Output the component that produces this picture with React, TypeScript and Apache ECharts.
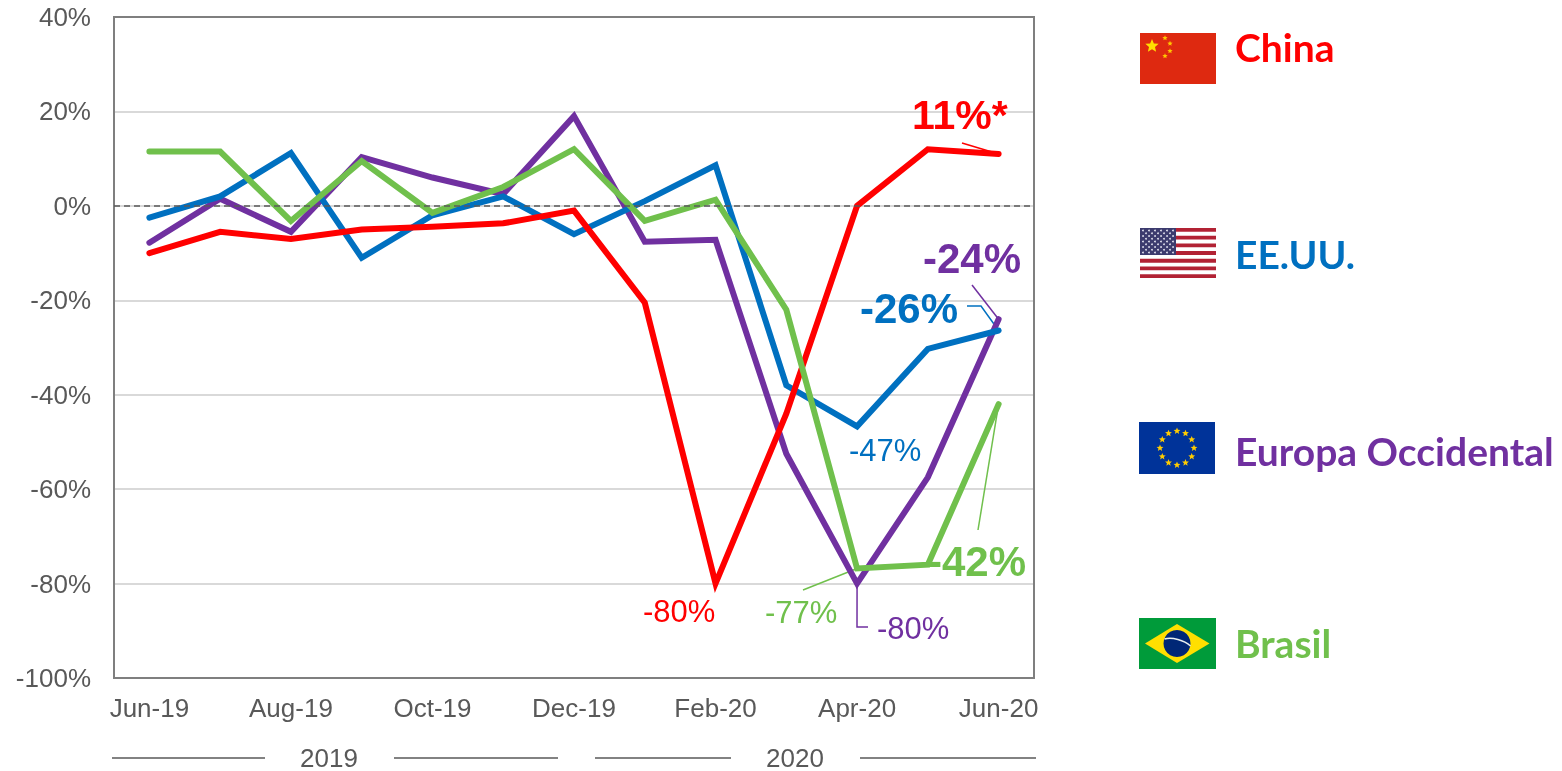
import React, { useEffect, useRef } from "react";
import * as echarts from "echarts";

const months = ["Jun-19","Jul-19","Aug-19","Sep-19","Oct-19","Nov-19","Dec-19","Jan-20","Feb-20","Mar-20","Apr-20","May-20","Jun-20"];
const china = [-10,-5.5,-7,-5,-4.4,-3.7,-1,-20.5,-80,-44,0,12,11];
const usa = [-2.5,2,11.2,-11,-2,2,-6,1,8.6,-38,-46.7,-30.3,-26.4];
const europe = [-7.8,1.5,-5.5,10.3,6,2.5,19,-7.6,-7.2,-52.5,-80,-57.5,-24];
const brazil = [11.5,11.5,-3.2,9.5,-1.5,4,12,-3.2,1.3,-22,-76.8,-76,-42];

const RED = "#ff0000", BLUE = "#0070c0", PURPLE = "#7030a0", GREEN = "#70c04c", GREY = "#595959";
const ARIAL = '"Liberation Sans", Arial, sans-serif';
const LEGEND_FONT = 'Lato, "Open Sans", sans-serif';

const star = (cx: number, cy: number, r: number, fill: string, rot = 0) => {
  const pts: number[][] = [];
  for (let i = 0; i < 10; i++) {
    const a = -Math.PI / 2 + rot + (i * Math.PI) / 5;
    const rr = i % 2 ? r * 0.45 : r;
    pts.push([cx + rr * Math.cos(a), cy + rr * Math.sin(a)]);
  }
  return { type: "polygon", shape: { points: pts }, style: { fill } };
};
const rect = (x: number, y: number, w: number, h: number, fill: string) => ({
  type: "rect", shape: { x, y, width: w, height: h }, style: { fill },
});
const txt = (x: number, y: number, text: string, fill: string, size: number, bold = false, font = ARIAL, align = "left") => ({
  type: "text", x, y,
  style: { text, fill, font: `${bold ? "bold " : ""}${size}px ${font}`, textAlign: align, textVerticalAlign: "middle" },
});
const seg = (pts: number[][], stroke: string, lineWidth = 1.5) => ({
  type: "polyline", shape: { points: pts }, style: { stroke, lineWidth, fill: "none" },
});

function flags() {
  const out: any[] = [];
  // China
  out.push(rect(1140, 33, 76, 51, "#de2910"));
  out.push(star(1152, 46, 7, "#ffde00"));
  out.push(star(1165, 38, 2.8, "#ffc800"), star(1170, 43.5, 2.8, "#ffc800"), star(1170, 51, 2.8, "#ffc800"), star(1165, 56, 2.8, "#ffc800"));
  // USA
  out.push(rect(1140, 228, 76, 50, "#ffffff"));
  for (let i = 0; i < 7; i++) out.push(rect(1140, 228 + i * 7.7, 76, 3.85, "#b22234"));
  out.push(rect(1140, 228, 36, 27, "#3c3b6e"));
  for (let r = 0; r < 9; r++) {
    const n = r % 2 ? 5 : 6;
    for (let c = 0; c < n; c++) {
      out.push({ type: "circle", shape: { cx: 1143 + (r % 2 ? 3 : 0) + c * 6, cy: 230.5 + r * 2.75, r: 0.9 }, style: { fill: "#e6e6f2" } });
    }
  }
  // EU
  out.push(rect(1139, 422, 76, 52, "#003399"));
  for (let i = 0; i < 12; i++) {
    const a = (i * Math.PI) / 6;
    out.push(star(1177 + 17 * Math.sin(a), 448 - 17 * Math.cos(a), 3.6, "#ffcc00"));
  }
  // Brazil
  out.push(rect(1139, 618, 77, 51, "#009b3a"));
  out.push({ type: "polygon", shape: { points: [[1145, 643.5], [1177, 624], [1209.5, 643.5], [1177, 663]] }, style: { fill: "#ffdf00" } });
  out.push({ type: "circle", shape: { cx: 1177, cy: 643.5, r: 13.5 }, style: { fill: "#002776" } });
  out.push({ type: "bezierCurve", shape: { x1: 1164.5, y1: 639, x2: 1190.5, y2: 646, cpx1: 1172, cpy1: 637, cpx2: 1184, cpy2: 640 }, style: { stroke: "#e8f0f0", lineWidth: 1.5, fill: "none" } });
  return out;
}

export default function App() {
  const ref = useRef<HTMLDivElement>(null);
  useEffect(() => {
    const chart = echarts.init(ref.current!, undefined, { renderer: "svg" });
    const line = (name: string, data: number[], color: string, extra: any = {}) => ({
      name, type: "line", data, symbol: "none", silent: true,
      lineStyle: { color, width: 6, join: "miter", miterLimit: 20, cap: "round" }, ...extra,
    });
    chart.setOption({
      animation: false,
      grid: { left: 114, right: 528, top: 17, bottom: 93 },
      xAxis: {
        type: "category", data: months,
        axisLine: { show: false }, axisTick: { show: false },
        axisLabel: { interval: 1, color: GREY, fontFamily: ARIAL, fontSize: 26, margin: 17 },
      },
      yAxis: {
        type: "value", min: -100, max: 40, interval: 20,
        axisLine: { show: false }, axisTick: { show: false },
        axisLabel: { formatter: "{value}%", color: GREY, fontFamily: ARIAL, fontSize: 26, margin: 23 },
        splitLine: { lineStyle: { color: "#d9d9d9", width: 2 } },
      },
      series: [
        line("Europa Occidental", europe, PURPLE, {
          markLine: {
            silent: true, symbol: "none", label: { show: false },
            lineStyle: { color: GREY, type: [6, 4], width: 1.5 },
            data: [{ yAxis: 0 }],
          },
        }),
        line("EE.UU.", usa, BLUE),
        line("China", china, RED),
        line("Brasil", brazil, GREEN),
      ],
    });

    const px = (i: number, v: number) => chart.convertToPixel({ xAxisIndex: 0, yAxisIndex: 0 }, [months[i], v]) as number[];
    const last = months.length - 1;
    const apr = months.indexOf("Apr-20");
    const elements: any[] = [
      // plot frame above the gridlines
      { type: "rect", z: 1, shape: { x: 114, y: 17, width: 920, height: 661 }, style: { fill: "none", stroke: "#7f7f7f", lineWidth: 2 } },
      // leader lines
      seg([[962, 143], px(last, china[last])], RED),
      seg([[967, 306], [981, 306], px(last, usa[last])], BLUE),
      seg([[972, 285], px(last, europe[last])], PURPLE),
      seg([[978, 530], px(last, brazil[last])], GREEN),
      seg([[803, 590], px(apr, brazil[apr])], GREEN),
      seg([px(apr, europe[apr]), [857, 627], [868, 627]], PURPLE),
      // value labels
      txt(912, 115, "11%*", RED, 41, true),
      txt(923, 258, "-24%", PURPLE, 42, true),
      txt(860, 308, "-26%", BLUE, 42, true),
      txt(928, 561, "-42%", GREEN, 42, true),
      txt(849, 450, "-47%", BLUE, 31),
      txt(643, 611, "-80%", RED, 31),
      txt(765, 612, "-77%", GREEN, 31),
      txt(877, 628, "-80%", PURPLE, 31),
      // year bands
      seg([[112, 758], [265, 758]], GREY),
      seg([[394, 758], [558, 758]], GREY),
      seg([[595, 758], [731, 758]], GREY),
      seg([[860, 758], [1036, 758]], GREY),
      txt(329, 757.5, "2019", GREY, 26, false, ARIAL, "center"),
      txt(795, 757.5, "2020", GREY, 26, false, ARIAL, "center"),
      // legend
      ...flags(),
      txt(1235, 47, "China", RED, 39, true, LEGEND_FONT),
      txt(1235, 254, "EE.UU.", BLUE, 39, true, LEGEND_FONT),
      txt(1235, 451, "Europa Occidental", PURPLE, 39, true, LEGEND_FONT),
      txt(1235, 643, "Brasil", GREEN, 39, true, LEGEND_FONT),
    ];
    chart.setOption({ graphic: { elements } });
    return () => chart.dispose();
  }, []);
  return <div ref={ref} style={{ position: "fixed", left: 0, top: 0, width: 1562, height: 771 }} />;
}
